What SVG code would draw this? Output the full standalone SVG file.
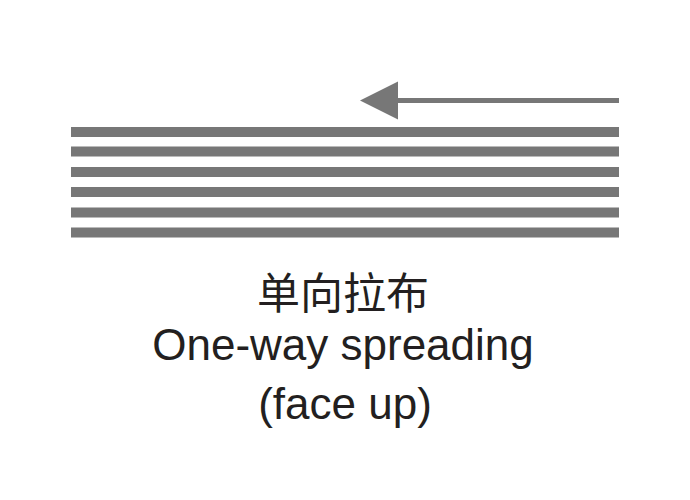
<svg xmlns="http://www.w3.org/2000/svg" width="690" height="500" viewBox="0 0 690 500">
<style>
.bar{fill:#777777}
.lbl{font-family:"Liberation Sans","Noto Sans CJK SC",sans-serif;fill:#231f20;text-anchor:middle}
</style>
<rect width="690" height="500" fill="#ffffff"/>
<g id="fabric">
<rect class="bar" x="71" y="127" width="548" height="10"/>
<rect class="bar" x="71" y="146.5" width="548" height="10"/>
<rect class="bar" x="71" y="167" width="548" height="10"/>
<rect class="bar" x="71" y="187" width="548" height="10"/>
<rect class="bar" x="71" y="207.5" width="548" height="10"/>
<rect class="bar" x="71" y="227.5" width="548" height="10"/>
</g>
<g id="connectors">
<line x1="396" y1="100.5" x2="619" y2="100.5" stroke="#777777" stroke-width="5"/>
<polygon points="360,100.5 398,81.5 398,119.5" fill="#777777"/>
</g>
<g id="label">
<text class="lbl" x="343" y="309" font-size="43">单向拉布</text>
<text class="lbl" x="343" y="360" font-size="44">One-way spreading</text>
<text class="lbl" x="345" y="419" font-size="44">(face up)</text>
</g>
</svg>
